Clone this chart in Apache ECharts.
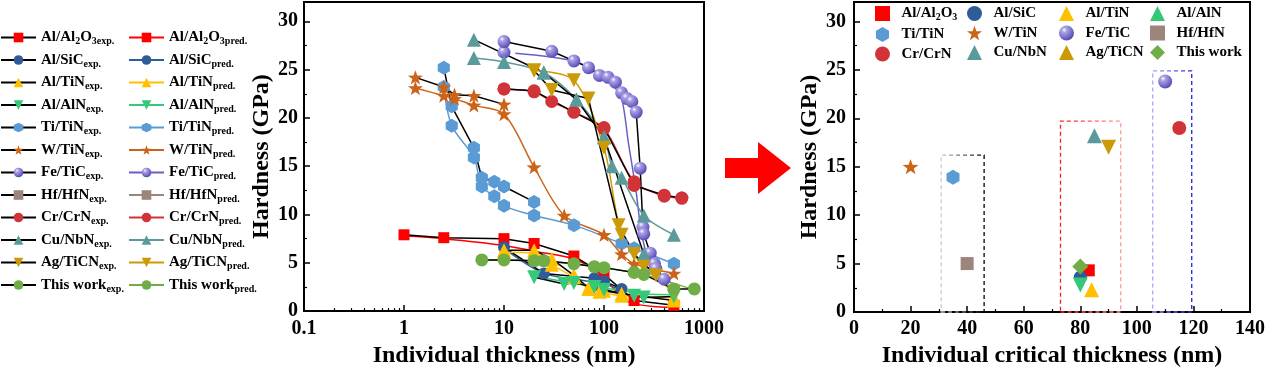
<!DOCTYPE html>
<html><head><meta charset="utf-8">
<script src="https://cdn.jsdelivr.net/npm/echarts@6/dist/echarts.min.js"></script>
<style>html,body{margin:0;padding:0;background:#fff}#c{width:1269px;height:373px}</style>
</head><body><div id="c"></div>
<script>
// ---------------- data ----------------
const materials = ['Al/Al2O3','Al/SiC','Al/TiN','Al/AlN','Ti/TiN','W/TiN','Fe/TiC','Hf/HfN','Cr/CrN','Cu/NbN','Ag/TiCN','This work'];

// left chart: [individual thickness (nm), hardness (GPa)]
const alAl2o3Exp  = [[1,7.9],[2.5,7.6],[10,7.5],[20,7.0],[50,5.7],[100,3.8],[200,1.1],[500,0.6]];
const alAl2o3Pred = [[1,7.8],[2.5,7.5],[10,6.8],[20,6.2],[50,5.4],[90,3.9],[180,0.9],[500,0.4]];
const alSicExp    = [[10,6.6],[25,3.9],[80,3.4],[100,3.1],[150,2.3]];
const alSicPred   = [[10,6.5],[25,3.9],[60,3.2],[100,2.8],[140,2.3]];
const alTinExp    = [[10,6.3],[20,6.3],[30,5.4],[50,3.7],[70,2.4],[100,2.1],[150,1.8],[500,1.1]];
const alTinPred   = [[10,6.1],[20,6.0],[30,4.8],[50,3.5],[70,2.3],[90,2.0],[150,1.6],[500,1.4]];
const alAlnExp    = [[20,3.5],[40,2.8],[50,2.9],[80,2.5],[100,2.2],[200,1.6],[250,1.4],[500,1.5]];
const alAlnPred   = [[20,3.6],[50,2.9],[100,2.4],[250,1.8],[500,1.7]];
const tiTinExp    = [[2.5,25.2],[3,21.2],[5,16.9],[6,13.8],[8,13.4],[10,12.9],[20,11.3]];
const tiTinPred   = [[2.5,23.2],[3,19.2],[5,15.9],[6,12.9],[8,11.9],[10,10.9],[20,9.9],[50,8.9],[150,7.0],[200,6.5],[500,4.9]];
const wTinExp     = [[1.3,24.2],[2.5,23.2],[3.2,22.4],[5,22.3],[10,21.4]];
const wTinPred    = [[1.3,23.1],[2.5,22.3],[3.2,22.0],[5,21.3],[10,20.4],[20,14.9],[40,9.9],[100,7.9],[150,5.9],[200,4.9],[500,3.9]];
const feTicExp    = [[10,26.8],[10,27.9],[30,26.9],[50,25.9],[70,25.2],[90,24.4],[110,24.2],[130,23.7],[150,22.6],[170,22.0],[190,21.7],[210,20.6],[230,14.8],[245,8.7],[250,8.0],[290,6.0],[320,4.9],[330,4.4],[400,3.3]];
const feTicPred   = [[13,26.7],[50,25.9],[90,24.6],[120,23.5],[150,22.0],[175,17.5],[210,12.3],[230,9.0],[260,6.3],[320,4.6],[400,3.4]];
const hfHfnExp    = [];
const hfHfnPred   = [];
const crCrnExp    = [[10,23.0],[20,22.8],[50,20.6],[100,19.0],[200,13.0],[400,12.0],[600,11.7]];
const crCrnPred   = [[10,23.0],[20,22.7],[30,21.7],[50,20.6],[100,18.9],[200,13.4],[400,11.9],[600,11.7]];
const cuNbnExp    = [[5,28.1],[25,24.7],[53,21.9],[100,18.0],[250,5.9]];
const cuNbnPred   = [[5,26.2],[10,25.8],[25,24.7],[53,21.9],[100,18.0],[120,15.0],[150,13.8],[250,9.9],[500,7.9]];
const agTicnExp   = [[20,24.9],[30,22.9],[70,22.0],[140,8.9],[200,5.9],[330,3.7]];
const agTicnPred  = [[20,24.9],[50,23.9],[100,16.9],[150,7.9],[250,4.6],[500,2.0]];
const thisWorkExp = [[6,5.3],[10,5.3],[20,5.2],[25,5.2],[50,4.9],[80,4.6],[100,4.5],[200,4.0],[250,3.8],[500,2.3],[800,2.3]];
const thisWorkPred= [[6,5.3],[10,5.3],[20,5.2],[50,4.9],[100,4.5],[200,4.0],[250,3.8],[800,2.2]];

// right chart: critical thickness (nm) and hardness (GPa), in materials order
const criticalThickness = [83, 80, 84, 80, 35, 20, 110, 40, 115, 85, 90, 80];
const criticalHardness  = [4.3, 3.6, 2.3, 2.8, 13.9, 15.0, 23.8, 5.0, 19.0, 18.2, 17.0, 4.7];
// dashed boxes [x1, y1, x2, y2]
const boxes = [[30.8,0,46,16.2],[73,0,94.3,19.7],[105.6,0,119.4,24.9]];

// ticks
const xMajorTicks  = [0.1, 1, 10, 100, 1000];
const xMinorTicks  = [0.2,0.3,0.4,0.5,0.6,0.7,0.8,0.9,2,3,4,5,6,7,8,9,20,30,40,50,60,70,80,90,200,300,400,500,600,700,800,900];
const yMajorTicks  = [0, 5, 10, 15, 20, 25, 30];
const yMinorTicks  = [2.5, 7.5, 12.5, 17.5, 22.5, 27.5];
const x2MajorTicks = [0, 20, 40, 60, 80, 100, 120, 140];
const x2MinorTicks = [10, 30, 50, 70, 90, 110, 130];

const expData  = [alAl2o3Exp, alSicExp, alTinExp, alAlnExp, tiTinExp, wTinExp, feTicExp, hfHfnExp, crCrnExp, cuNbnExp, agTicnExp, thisWorkExp];
const predData = [alAl2o3Pred, alSicPred, alTinPred, alAlnPred, tiTinPred, wTinPred, feTicPred, hfHfnPred, crCrnPred, cuNbnPred, agTicnPred, thisWorkPred];

// ---------------- styles ----------------
const FONT = 'Liberation Serif';
const HEX = 'path://M0,-10L8.66,-5L8.66,5L0,10L-8.66,5L-8.66,-5Z';
const STAR = 'path://M0,-10L2.35,-3.24L9.51,-3.09L3.8,1.24L5.88,8.09L0,4L-5.88,8.09L-3.8,1.24L-9.51,-3.09L-2.35,-3.24Z';
const sphere = new echarts.graphic.RadialGradient(0.35, 0.3, 0.75, [
  {offset: 0, color: '#ffffff'}, {offset: 0.22, color: '#aaa4e8'}, {offset: 1, color: '#5345b0'}]);
const STY = [
  {color:'#ff0000', symbol:'rect', size:11, rot:0},
  {color:'#2e5c99', symbol:'circle', size:12, rot:0},
  {color:'#ffc000', symbol:'triangle', size:14, rot:0},
  {color:'#35c878', symbol:'triangle', size:14, rot:180},
  {color:'#5b9bd5', symbol:HEX, size:14, rot:0},
  {color:'#cc6318', symbol:STAR, size:15, rot:0},
  {color:sphere, line:'#6a5fc8', symbol:'circle', size:13, rot:0},
  {color:'#9c857a', symbol:'rect', size:12, rot:0},
  {color:'#d13438', symbol:'circle', size:13, rot:0},
  {color:'#5b9a9b', symbol:'triangle', size:14, rot:0},
  {color:'#cc9a06', symbol:'triangle', size:14, rot:180},
  {color:'#70ad47', symbol:'circle', size:13, rot:0}
];
const predMarkers = ['Al/TiN','Ti/TiN','W/TiN','Cr/CrN','Cu/NbN','Ag/TiCN'];

function rich(name, suffix) {
  let out = '';
  (name.match(/\d+|\D+/g) || []).forEach(p => { out += /\d/.test(p) ? '{s|' + p + '}' : '{b|' + p + '}'; });
  if (suffix) out += '{s|' + suffix + '}';
  return out;
}
const labelOf = {};
materials.forEach(m => {
  labelOf[m + 'exp.'] = rich(m, 'exp.');
  labelOf[m + 'pred.'] = rich(m, 'pred.');
  labelOf[m] = rich(m, '');
});

const series = [];
materials.forEach((m, i) => {
  const s = STY[i];
  series.push({
    type: 'line', name: m + 'pred.', xAxisIndex: 0, yAxisIndex: 0,
    data: predData[i], smooth: 0.3, showSymbol: predMarkers.indexOf(m) >= 0,
    symbol: s.symbol, symbolSize: s.size, symbolRotate: s.rot, symbolKeepAspect: true,
    itemStyle: {color: s.color}, lineStyle: {color: s.line || s.color, width: 1.5},
    emphasis: {disabled: true}, animation: false
  });
  series.push({
    type: 'line', name: m + 'exp.', xAxisIndex: 0, yAxisIndex: 0,
    data: expData[i], smooth: false, showSymbol: true,
    symbol: s.symbol, symbolSize: s.size, symbolRotate: s.rot, symbolKeepAspect: true,
    itemStyle: {color: s.color}, lineStyle: {color: '#000', width: 1.5},
    emphasis: {disabled: true}, animation: false
  });
});
const boxColors = [
  new echarts.graphic.LinearGradient(0,0,1,0,[{offset:0,color:'#cfcfcf'},{offset:1,color:'#000000'}]),
  new echarts.graphic.LinearGradient(0,0,1,0,[{offset:0,color:'#ff1a1a'},{offset:1,color:'#ff9a9a'}]),
  new echarts.graphic.LinearGradient(0,0,1,0,[{offset:0,color:'#a8a8ff'},{offset:1,color:'#1f1fe0'}])
];
materials.forEach((m, i) => {
  const s = STY[i];
  const ser = {
    type: 'scatter', name: m, xAxisIndex: 2, yAxisIndex: 2,
    data: [[criticalThickness[i], criticalHardness[i]]],
    symbol: m === 'This work' ? 'diamond' : s.symbol,
    symbolSize: m === 'This work' ? 16 : s.size + 1, symbolRotate: s.rot, symbolKeepAspect: true,
    itemStyle: {color: s.color, opacity: 1}, emphasis: {disabled: true}, animation: false, z: 3
  };
  if (i === 0) {
    ser.markArea = {
      silent: true, z: 1,
      data: boxes.map((b, k) => [
        {coord: [b[0], b[1]], itemStyle: {color: 'rgba(0,0,0,0)', borderColor: boxColors[k], borderWidth: 1.3, borderType: [4, 3]}},
        {coord: [b[2], b[3]]}
      ])
    };
  }
  series.push(ser);
});

const tickFont = {fontFamily: FONT, fontWeight: 'bold', fontSize: 20, color: '#000'};
const nameFont = {fontFamily: FONT, fontWeight: 'bold', fontSize: 24, color: '#000'};
const richStyles = {
  b: {fontFamily: FONT, fontWeight: 'bold', fontSize: 15, color: '#000', lineHeight: 18},
  s: {fontFamily: FONT, fontWeight: 'bold', fontSize: 10, color: '#000', lineHeight: 8, verticalAlign: 'bottom'}
};
function legendCol(left, top, names, opts, padLeft) {
  return Object.assign({
    orient: 'vertical', left: left, top: top, data: names, selectedMode: false,
    itemWidth: 35, itemHeight: 12, itemGap: 6, padding: 0, symbolKeepAspect: true,
    formatter: n => labelOf[n],
    textStyle: {fontFamily: FONT, fontWeight: 'bold', fontSize: 15, color: '#000', rich: richStyles,
                padding: [0, 0, 0, padLeft || 0]}
  }, opts || {});
}
const legends = [
  legendCol(0, 30, materials.map(m => m + 'exp.')),
  legendCol(128, 30, materials.map(m => m + 'pred.'))
];
const rightCols = [[0,4,8],[1,5,9],[2,6,10],[3,7,11]];
const rightLefts = [875, 967, 1059, 1150];
rightCols.forEach((col, k) => {
  legends.push(legendCol(rightLefts[k], 6, col.map(i => materials[i]), {itemWidth: 15, itemHeight: 15, itemGap: 4.5}, 6.5));
});

const axisLine = {show: true, lineStyle: {color: '#000', width: 2}};
const option = {
  backgroundColor: '#fff',
  animation: false,
  grid: [
    {left: 304, top: 2, width: 400, height: 321, show: true, borderColor: '#000', borderWidth: 2, backgroundColor: 'rgba(0,0,0,0)'},
    {left: 854, top: 2, width: 396, height: 316.5, show: true, borderColor: '#000', borderWidth: 2, backgroundColor: 'rgba(0,0,0,0)'}
  ],
  legend: legends,
  xAxis: [
    {type: 'log', logBase: 10, gridIndex: 0, min: 0.1, max: 1000, position: 'bottom',
     axisLine: axisLine, splitLine: {show: false},
     axisTick: {show: true, inside: true, length: 6, lineStyle: {width: 1.5, color: '#000'}, customValues: xMajorTicks},
     axisLabel: Object.assign({margin: 8, customValues: xMajorTicks, formatter: v => String(v)}, tickFont),
     name: 'Individual thickness (nm)', nameLocation: 'middle', nameGap: 28, nameTextStyle: nameFont},
    {type: 'log', logBase: 10, gridIndex: 0, min: 0.1, max: 1000, position: 'bottom',
     axisLine: {show: false}, splitLine: {show: false}, axisLabel: {show: false},
     axisTick: {show: true, inside: true, length: 3, lineStyle: {width: 1.2, color: '#000'}, customValues: xMinorTicks}},
    {type: 'value', gridIndex: 1, min: 0, max: 140, interval: 20, position: 'bottom',
     axisLine: axisLine, splitLine: {show: false},
     axisTick: {show: true, inside: true, length: 6, lineStyle: {width: 1.5, color: '#000'}, customValues: x2MajorTicks},
     axisLabel: Object.assign({margin: 7, customValues: x2MajorTicks}, tickFont),
     name: 'Individual critical thickness (nm)', nameLocation: 'middle', nameGap: 32, nameTextStyle: nameFont},
    {type: 'value', gridIndex: 1, min: 0, max: 140, position: 'bottom',
     axisLine: {show: false}, splitLine: {show: false}, axisLabel: {show: false},
     axisTick: {show: true, inside: true, length: 3, lineStyle: {width: 1.2, color: '#000'}, customValues: x2MinorTicks}}
  ],
  yAxis: [
    {type: 'value', gridIndex: 0, min: 0, max: 32, position: 'left',
     axisLine: axisLine, splitLine: {show: false},
     axisTick: {show: true, inside: true, length: 6, lineStyle: {width: 1.5, color: '#000'}, customValues: yMajorTicks},
     axisLabel: Object.assign({margin: 6, customValues: yMajorTicks}, tickFont),
     name: 'Hardness (GPa)', nameLocation: 'middle', nameGap: 29, nameTextStyle: nameFont},
    {type: 'value', gridIndex: 0, min: 0, max: 32, position: 'left',
     axisLine: {show: false}, splitLine: {show: false}, axisLabel: {show: false},
     axisTick: {show: true, inside: true, length: 3, lineStyle: {width: 1.2, color: '#000'}, customValues: yMinorTicks}},
    {type: 'value', gridIndex: 1, min: 0, max: 32, position: 'left',
     axisLine: axisLine, splitLine: {show: false},
     axisTick: {show: true, inside: true, length: 6, lineStyle: {width: 1.5, color: '#000'}, customValues: yMajorTicks},
     axisLabel: Object.assign({margin: 8, customValues: yMajorTicks}, tickFont),
     name: 'Hardness (GPa)', nameLocation: 'middle', nameGap: 32, nameTextStyle: nameFont},
    {type: 'value', gridIndex: 1, min: 0, max: 32, position: 'left',
     axisLine: {show: false}, splitLine: {show: false}, axisLabel: {show: false},
     axisTick: {show: true, inside: true, length: 3, lineStyle: {width: 1.2, color: '#000'}, customValues: yMinorTicks}}
  ],
  graphic: [{
    type: 'polygon', silent: true,
    shape: {points: [[725,158],[758,158],[758,142],[791,168],[758,194],[758,178],[725,178]]},
    style: {fill: '#ff0000'}
  }],
  series: series
};
const chart = echarts.init(document.getElementById('c'), null, {renderer: 'canvas'});
chart.setOption(option);
</script>
</body></html>
